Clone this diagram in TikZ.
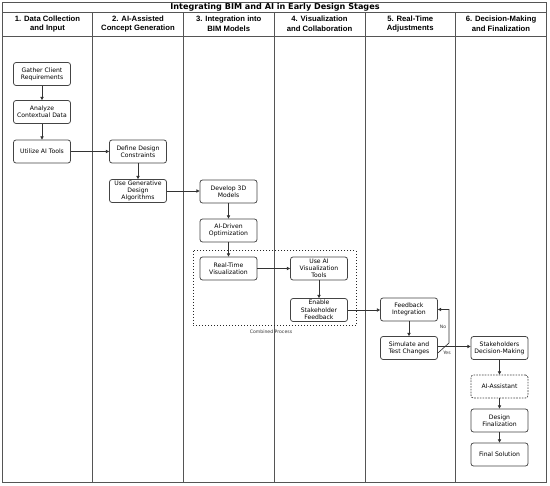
\documentclass[tikz,border=0pt]{standalone}
\usepackage{fontspec}
\setmainfont{Liberation Sans}
\newfontfamily\boxfont{DejaVu Sans}
\usetikzlibrary{arrows.meta}
\definecolor{frame}{HTML}{555555}
\definecolor{bx}{HTML}{444444}
\tikzset{
  stepbox/.style={draw=bx, line width=0.75pt, rounded corners=2.5pt, fill=white,
    minimum width=57pt, minimum height=23pt, inner sep=1pt, align=center,
    font=\boxfont\fontsize{6.1}{7.3}\selectfont, text=black},
  dashbox/.style={stepbox, dash pattern=on 1.6pt off 1.2pt},
  conn/.style={draw=black!80, line width=0.65pt, -{Triangle[length=3.2pt,width=3.2pt]}},
  hdr/.style={font=\bfseries\fontsize{7.7}{9.6}\selectfont, align=center},
  lane/.style={draw=frame, line width=0.8pt},
  tiny/.style={font=\boxfont\fontsize{4.6}{5}\selectfont, text=black!80}
}
\begin{document}
\begin{tikzpicture}[x=1pt,y=-1pt]
\useasboundingbox (0,0) rectangle (550,486);
\fill[white] (0,0) rectangle (550,486);
% frame
\draw[lane] (2.5,2.5) rectangle (546.5,482);
\draw[lane] (2.5,12.5) -- (546.5,12.5);
\draw[lane] (2.5,36.5) -- (546.5,36.5);
\foreach \x in {92.5,183.5,274,365,455.5} \draw[lane] (\x,12.5) -- (\x,482);
\node[font=\boxfont\bfseries\fontsize{8.1}{9}\selectfont, anchor=base, inner sep=0pt] (title) at (275,9.6) {Integrating BIM and AI in Early Design Stages};
\node[hdr] (h1) at (47.5,24) {1. Data Collection\\and Input};
\node[hdr] (h2) at (138,24) {2. AI-Assisted\\Concept Generation};
\node[hdr] (h3) at (228.75,24) {3. Integration into\\BIM Models};
\node[hdr] (h4) at (319.5,24) {4. Visualization\\and Collaboration};
\node[hdr] (h5) at (410.25,24) {5. Real-Time\\Adjustments};
\node[hdr] (h6) at (501,24) {6. Decision-Making\\and Finalization};
% combined process dotted box
\draw[black!85, line width=1pt, dash pattern=on 1pt off 2pt] (193,251) rectangle (356,326);
\node[tiny] (cp) at (271,332) {Combined Process};
% nodes
\node[stepbox] (g1) at (42,74) {Gather Client\\Requirements};
\node[stepbox] (g2) at (42,112) {Analyze\\Contextual Data};
\node[stepbox] (g3) at (42,151.5) {Utilize AI Tools};
\node[stepbox] (d1) at (138,151.5) {Define Design\\Constraints};
\node[stepbox] (d2) at (138,191) {Use Generative\\Design\\Algorithms};
\node[stepbox] (e1) at (228.5,191.5) {Develop 3D\\Models};
\node[stepbox] (e2) at (228.5,230.5) {AI-Driven\\Optimization};
\node[stepbox] (e3) at (228.5,268.5) {Real-Time\\Visualization};
\node[stepbox] (v1) at (319,268.5) {Use AI\\Visualization\\Tools};
\node[stepbox] (v2) at (319,310) {Enable\\Stakeholder\\Feedback};
\node[stepbox] (f1) at (409,309.5) {Feedback\\Integration};
\node[stepbox] (f2) at (409,348) {Simulate and\\Test Changes};
\node[stepbox] (s1) at (499.5,348) {Stakeholders\\Decision-Making};
\node[dashbox] (s2) at (499.5,386.5) {AI-Assistant};
\node[stepbox] (s3) at (499.5,420.5) {Design\\Finalization};
\node[stepbox] (s4) at (499.5,454.5) {Final Solution};
% connectors
\draw[conn] (g1) -- (g2);
\draw[conn] (g2) -- (g3);
\draw[conn] (g3) -- (d1);
\draw[conn] (d1) -- (d2);
\draw[conn] (d2) -- (d2 -| e1.west);
\draw[conn] (e1) -- (e2);
\draw[conn] (e2) -- (e3);
\draw[conn] (e3) -- (v1);
\draw[conn] (v1) -- (v2);
\draw[conn] (v2) -- (v2 -| f1.west);
\draw[conn] (f1) -- (f2);
\coordinate (lp) at (449,343);
\draw[conn] ([yshift=-5pt]f2.east) -- (lp) -- (lp |- f1.east) -- (f1.east);
\node[tiny] (no) at (443,327) {No};
\coordinate (ys) at ([yshift=1.5pt]f2.east);
\draw[conn] (ys) -- (ys -| s1.west);
\node[tiny] (yes) at (447,353) {Yes};
\draw[conn] (s1) -- (s2);
\draw[conn] (s2) -- (s3);
\draw[conn] (s3) -- (s4);
\end{tikzpicture}
\end{document}
